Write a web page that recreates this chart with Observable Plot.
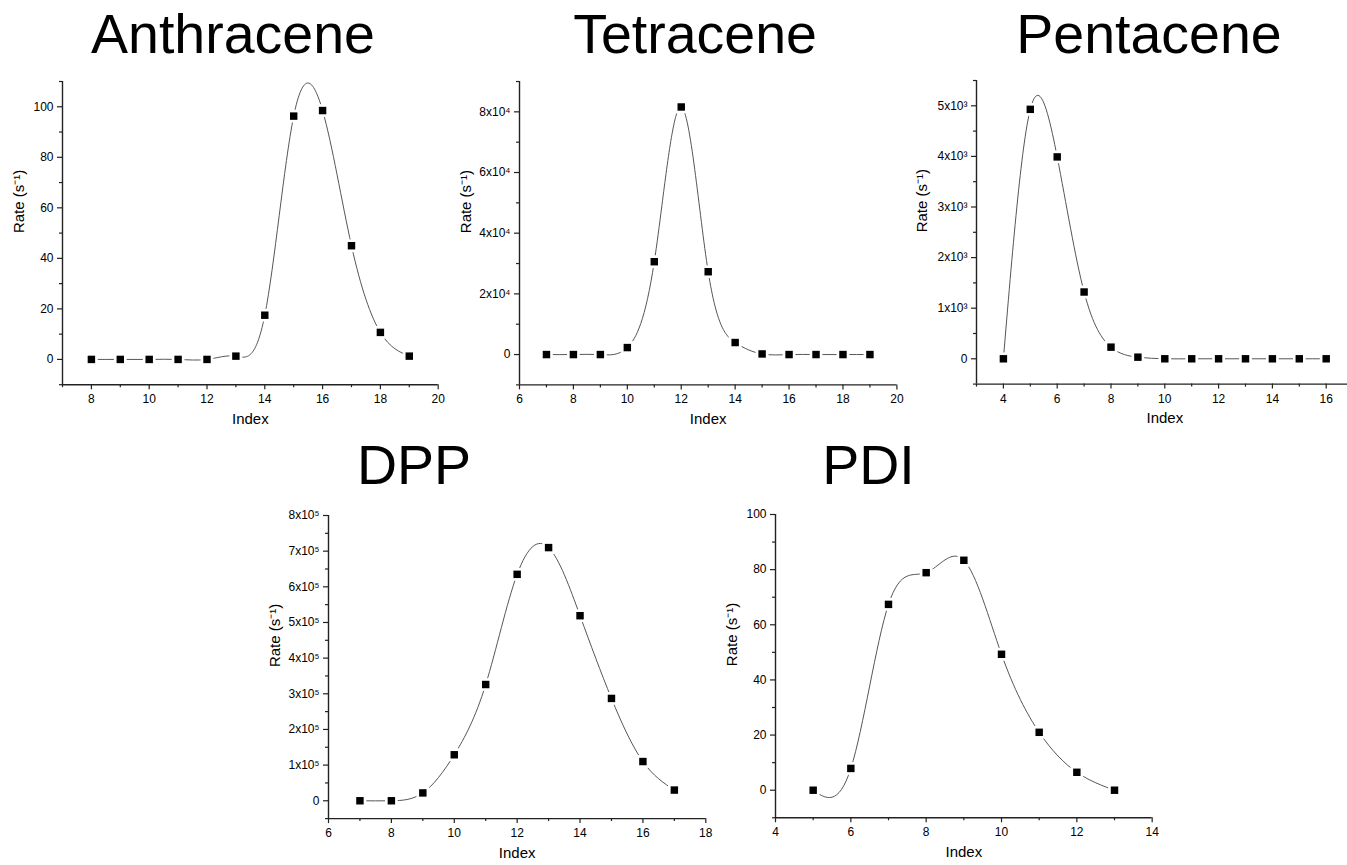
<!DOCTYPE html>
<html><head><meta charset="utf-8">
<script src="https://cdn.jsdelivr.net/npm/d3@7"></script>
<script src="https://cdn.jsdelivr.net/npm/@observablehq/plot@0.6"></script>
<style>
html,body{margin:0;padding:0;background:#fff;overflow:hidden;}
#page{position:relative;width:1347px;height:865px;overflow:hidden;font-family:"Liberation Sans",Arial,sans-serif;}
.title{position:absolute;font-size:55.5px;line-height:55.5px;white-space:nowrap;transform:translateX(-50%);color:#000;}
.panel{position:absolute;}
</style></head><body><div id="page"></div>
<script>
// ---- data ----
const anthraceneIndex = [8,9,10,11,12,13,14,15,16,17,18,19];
const anthraceneRate  = [0,0,0,0,0,1.3,17.5,96.3,98.5,45,10.7,1.3];

const tetraceneIndex = [7,8,9,10,11,12,13,14,15,16,17,18,19];
const tetraceneRate  = [0,0,0,2300,30600,81600,27300,3960,200,0,0,0,0];

const pentaceneIndex = [4,5,6,7,8,9,10,11,12,13,14,15,16];
const pentaceneRate  = [0,4930,3990,1320,230,32,0,0,0,0,0,0,0];

const dppIndex = [7,8,9,10,11,12,13,14,15,16,17];
const dppRate  = [0,0,22000,129000,326000,635000,710000,519000,287000,110000,30000];

const pdiIndex = [5,6,7,8,9,10,11,12,13];
const pdiRate  = [0,7.9,67.4,78.9,83.4,49.3,21.0,6.5,0];

// ---- ticks ----
const anthraceneXTicks = [8,10,12,14,16,18,20];
const anthraceneXMinor = [7,9,11,13,15,17,19];
const anthraceneYTicks = [0,20,40,60,80,100];
const anthraceneYMinor = [-10,10,30,50,70,90,110];

const tetraceneXTicks = [6,8,10,12,14,16,18,20];
const tetraceneXMinor = [7,9,11,13,15,17,19];
const tetraceneYTicks = [0,20000,40000,60000,80000];
const tetraceneYLabels = ["0","2x10⁴","4x10⁴","6x10⁴","8x10⁴"];
const tetraceneYMinor = [-10000,10000,30000,50000,70000,90000];

const pentaceneXTicks = [4,6,8,10,12,14,16];
const pentaceneXMinor = [3,5,7,9,11,13,15,17];
const pentaceneYTicks = [0,1000,2000,3000,4000,5000];
const pentaceneYLabels = ["0","1x10³","2x10³","3x10³","4x10³","5x10³"];
const pentaceneYMinor = [-500,500,1500,2500,3500,4500,5500];

const dppXTicks = [6,8,10,12,14,16,18];
const dppXMinor = [7,9,11,13,15,17];
const dppYTicks = [0,100000,200000,300000,400000,500000,600000,700000,800000];
const dppYLabels = ["0","1x10⁵","2x10⁵","3x10⁵","4x10⁵","5x10⁵","6x10⁵","7x10⁵","8x10⁵"];
const dppYMinor = [-50000,50000,150000,250000,350000,450000,550000,650000,750000];

const pdiXTicks = [4,6,8,10,12,14];
const pdiXMinor = [5,7,9,11,13];
const pdiYTicks = [0,20,40,60,80,100];
const pdiYMinor = [-10,10,30,50,70,90];

const xTitle = "Index";
const yTitle = "Rate (s⁻¹)";

// ---- layout ----
const page = document.getElementById("page");
const ML = 80, MR = 20, MT = 10, MB = 55;
const FONT = "Liberation Sans, Arial, sans-serif";

function drawPanel(p) {
  const [L, R, T, B] = p.box;
  const data = p.index.map((x, i) => ({x, y: p.rate[i]}));
  const fmt = p.yLabels ? (d => p.yLabels[p.yTicks.indexOf(d)]) : (d => String(d));
  const chart = Plot.plot({
    width: R - L + ML + MR,
    height: B - T + MT + MB,
    marginLeft: ML, marginRight: MR, marginTop: MT, marginBottom: MB,
    x: {domain: p.xDomain},
    y: {domain: p.yDomain},
    style: {fontFamily: FONT, fontSize: "12px", color: "#000", background: "transparent", overflow: "visible"},
    marks: [
      Plot.axisX({ticks: p.xTicks, tickSize: 5, tickPadding: 5, tickFormat: d => String(d), label: null, fontSize: 12, stroke: "#222", strokeWidth: 1.2}),
      Plot.axisX({ticks: p.xMinor, tickSize: 3, tickFormat: () => "", label: null, stroke: "#222", strokeWidth: 1.2}),
      Plot.axisY({ticks: p.yTicks, tickSize: 5, tickPadding: 4, tickFormat: fmt, label: null, fontSize: 12, stroke: "#222", strokeWidth: 1.2}),
      Plot.axisY({ticks: p.yMinor, tickSize: 3, tickFormat: () => "", label: null, stroke: "#222", strokeWidth: 1.2}),
      Plot.ruleY([p.yDomain[0]], {stroke: "#222", strokeWidth: 1.4}),
      Plot.ruleX([p.xDomain[0]], {stroke: "#222", strokeWidth: 1.4}),
      Plot.line(data, {x: "x", y: "y", curve: "natural", stroke: "#555", strokeWidth: 1}),
      Plot.dot(data, {x: "x", y: "y", symbol: "square", r: 7.2, fill: "white"}),
      Plot.dot(data, {x: "x", y: "y", symbol: "square", r: 4.2, fill: "black"}),
      Plot.text([yTitle], {text: d => d, frameAnchor: "left", dx: p.yLabelDx, rotate: -90, fontSize: 15, fill: "#000"}),
      Plot.text([xTitle], {text: d => d, frameAnchor: "bottom", dy: 39, fontSize: 15, fill: "#000"})
    ]
  });
  chart.classList.add("panel");
  chart.style.left = (L - ML) + "px";
  chart.style.top = (T - MT) + "px";
  page.appendChild(chart);

  const t = document.createElement("div");
  t.className = "title";
  t.textContent = p.title;
  t.style.left = p.titleX + "px";
  t.style.top = (p.titleBaseline - 47) + "px";
  page.appendChild(t);
}

drawPanel({title: "Anthracene", titleX: 233, titleBaseline: 54,
  index: anthraceneIndex, rate: anthraceneRate,
  xDomain: [7, 20], yDomain: [-10, 110], box: [62, 437.7, 81.4, 384.6],
  xTicks: anthraceneXTicks, xMinor: anthraceneXMinor, yTicks: anthraceneYTicks, yMinor: anthraceneYMinor,
  yLabelDx: -43});

drawPanel({title: "Tetracene", titleX: 695, titleBaseline: 54,
  index: tetraceneIndex, rate: tetraceneRate,
  xDomain: [6, 20], yDomain: [-10000, 90000], box: [519.3, 896.7, 80.6, 384],
  xTicks: tetraceneXTicks, xMinor: tetraceneXMinor, yTicks: tetraceneYTicks, yLabels: tetraceneYLabels, yMinor: tetraceneYMinor,
  yLabelDx: -53});

drawPanel({title: "Pentacene", titleX: 1149, titleBaseline: 54,
  index: pentaceneIndex, rate: pentaceneRate,
  xDomain: [3, 17], yDomain: [-500, 5500], box: [975.8, 1352.4, 80, 383.6],
  xTicks: pentaceneXTicks, xMinor: pentaceneXMinor, yTicks: pentaceneYTicks, yLabels: pentaceneYLabels, yMinor: pentaceneYMinor,
  yLabelDx: -54});

drawPanel({title: "DPP", titleX: 414, titleBaseline: 485,
  index: dppIndex, rate: dppRate,
  xDomain: [6, 18], yDomain: [-50000, 800000], box: [327.7, 705, 515, 818.1],
  xTicks: dppXTicks, xMinor: dppXMinor, yTicks: dppYTicks, yLabels: dppYLabels, yMinor: dppYMinor,
  yLabelDx: -53});

drawPanel({title: "PDI", titleX: 868.5, titleBaseline: 485,
  index: pdiIndex, rate: pdiRate,
  xDomain: [4, 14], yDomain: [-10, 100], box: [775.3, 1152, 514, 817.3],
  xTicks: pdiXTicks, xMinor: pdiXMinor, yTicks: pdiYTicks, yMinor: pdiYMinor,
  yLabelDx: -43});
</script>
</body></html>
